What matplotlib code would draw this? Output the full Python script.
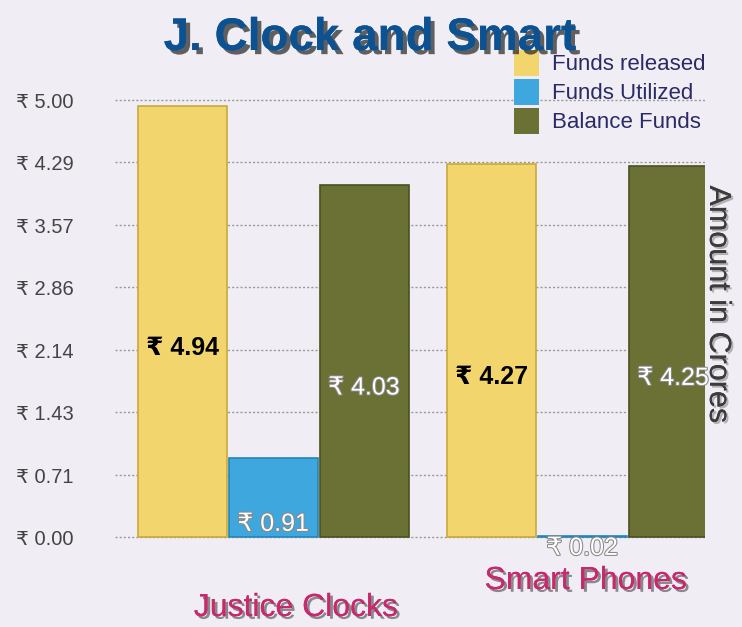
import numpy as np
import matplotlib
matplotlib.use("Agg")
import matplotlib.pyplot as plt
import matplotlib.patheffects as pe

# data
categories = ["Justice Clocks", "Smart Phones"]
series = ["Funds released", "Funds Utilized", "Balance Funds"]
funds_released = [4.94, 4.27]
funds_utilized = [0.91, 0.02]
balance_funds = [4.03, 4.25]
tick_values = [0.00, 0.71, 1.43, 2.14, 2.86, 3.57, 4.29, 5.00]

colors = ["#f2d56c", "#3ea8de", "#6b7135"]
edge_colors = ["#c9a93c", "#2585b8", "#4b5020"]
label_colors = ["black", "white", "white"]

FONT = ["Liberation Sans", "DejaVu Sans"]
plt.rcParams["font.family"] = FONT

bg = "#f0eef4"
fig = plt.figure(figsize=(7.42, 6.27), dpi=100, facecolor=bg)
ax = fig.add_axes([0.155, 0.0175, 0.795, 0.885])
ax.set_facecolor(bg)

group_gap = 3.4
width = 0.98
values = [funds_released, funds_utilized, balance_funds]

for i, (name, vals) in enumerate(zip(series, values)):
    x = np.arange(len(categories)) * group_gap + i
    bars = ax.bar(x, vals, width=width, color=colors[i], edgecolor=edge_colors[i],
                  linewidth=1.2, label=name, zorder=3)
    for b, v in zip(bars, vals):
        # value label sits a bit below the middle of the bar, as in the original
        ty = max(v / 2 - 0.3, -0.12)
        t = ax.text(b.get_x() + b.get_width() / 2, ty, f"\u20b9 {v:.2f}",
                    ha="center", va="center", fontsize=18,
                    fontweight="bold" if label_colors[i] == "black" else "normal",
                    color=label_colors[i], zorder=5)
        if label_colors[i] == "white":
            t.set_path_effects([pe.withStroke(linewidth=1.5, foreground="#888888")])

ax.set_xlim(-0.74, 5.75)
ax.set_ylim(-0.9, 5.45)
ax.set_yticks(tick_values)
ax.set_yticklabels([f"\u20b9 {v:.2f}" for v in tick_values], fontsize=14.5, color="#444444")
ax.tick_params(axis="y", length=0, pad=30)
ax.set_xticks([])
ax.grid(axis="y", linestyle=(0, (1.5, 1.5)), color="#999999", linewidth=1.0, zorder=1)
for s in ax.spines.values():
    s.set_visible(False)

# category labels
cat_pos = [(296, 608), (586, 581)]
for cat, (px, py) in zip(categories, cat_pos):
    fig.text(px / 742, 1 - py / 627, cat, ha="center", va="center", fontsize=23,
             color="#c8286e",
             path_effects=[pe.withSimplePatchShadow(offset=(2, -2), shadow_rgbFace="#444444", alpha=0.6), pe.Normal()])

# title
fig.text(370 / 742, 1 - 38 / 627, "J. Clock and Smart", ha="center", va="center",
         fontsize=33, fontweight="bold", color="#0c5292",
         path_effects=[pe.withSimplePatchShadow(offset=(3, -3), shadow_rgbFace="#222222", alpha=0.7), pe.Normal()])

# y label
fig.text(718 / 742, 1 - 304 / 627, "Amount in Crores", rotation=270, ha="center", va="center",
         fontsize=22, color="#3c3c3c",
         path_effects=[pe.withSimplePatchShadow(offset=(1.5, -1.5), shadow_rgbFace="#888888", alpha=0.6), pe.Normal()])

# legend
leg = ax.legend(loc="upper left", bbox_to_anchor=(503 / 742, 1 - 39 / 627), bbox_transform=fig.transFigure,
                frameon=False, fontsize=16, handlelength=1.1, handleheight=1.4,
                handletextpad=0.6, labelspacing=0.15, borderpad=0)
for t in leg.get_texts():
    t.set_color("#2a2a66")
for h in leg.legend_handles:
    h.set_edgecolor("none")

fig.savefig("out.png", dpi=100, facecolor=bg)
